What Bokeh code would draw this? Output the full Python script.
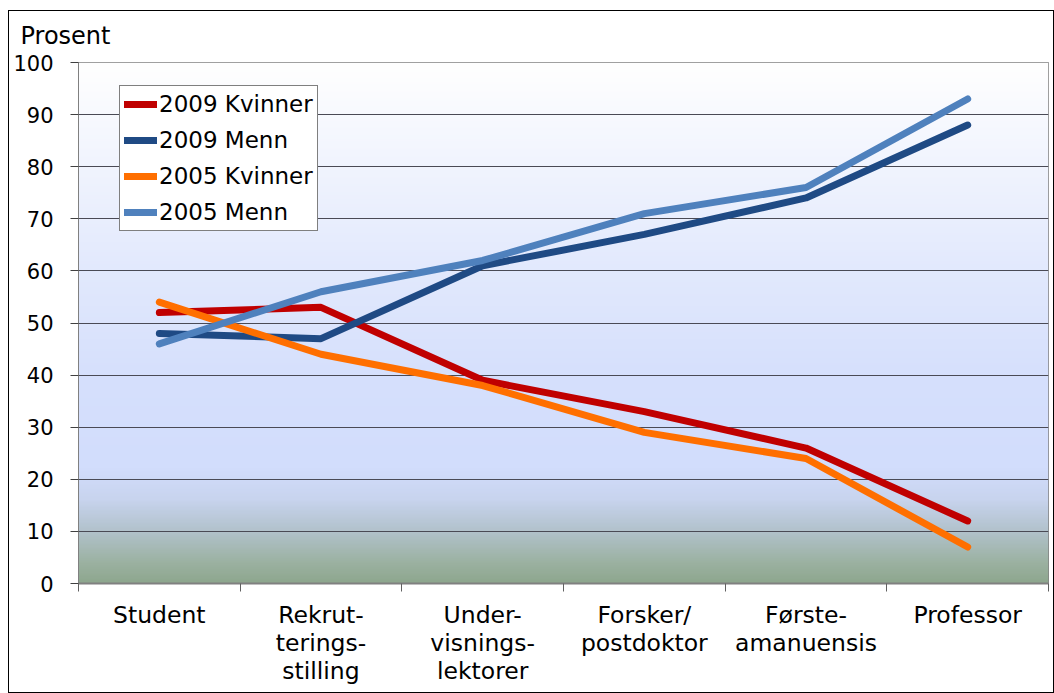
import numpy as np
from bokeh.plotting import figure
from bokeh.models import FixedTicker, Legend, LegendItem, Range1d
from bokeh.embed import file_html
from bokeh.resources import INLINE

categories = ["Student", "Rekrut-\nterings-\nstilling", "Under-\nvisnings-\nlektorer",
              "Forsker/\npostdoktor", "Første-\namanuensis", "Professor"]
kvinner_2009 = [52, 53, 39, 33, 26, 12]
menn_2009 = [48, 47, 61, 67, 74, 88]
kvinner_2005 = [54, 44, 38, 29, 24, 7]
menn_2005 = [46, 56, 62, 71, 76, 93]
y_ticks = [0, 10, 20, 30, 40, 50, 60, 70, 80, 90, 100]

series = [
    ("2009 Kvinner", kvinner_2009, "#c00000"),
    ("2009 Menn", menn_2009, "#1f4a84"),
    ("2005 Kvinner", kvinner_2005, "#ff6f00"),
    ("2005 Menn", menn_2005, "#4f81bd"),
]

FONT = "DejaVu Sans"

p = figure(width=1046, height=683, output_backend="svg", toolbar_location=None,
           x_range=Range1d(-0.5, 5.5), y_range=Range1d(0, 100),
           min_border_left=69, min_border_right=7, min_border_top=51, min_border_bottom=111)
p.background_fill_color = None
p.border_fill_color = "white"
p.outline_line_color = "#808080"
p.outline_line_width = 1
p.styles = {"border": "1px solid black", "margin-left": "8px", "margin-top": "10px"}

# gradient background
stops_v = np.array([0, 4, 10, 16, 22, 40, 60, 100], dtype=float)
stops_c = np.array([
    [0x8e, 0xa7, 0x8e],
    [0x9c, 0xb2, 0xa2],
    [0xb2, 0xc2, 0xcc],
    [0xc8, 0xd4, 0xee],
    [0xd2, 0xdd, 0xfc],
    [0xd6, 0xe0, 0xfc],
    [0xe2, 0xe9, 0xfd],
    [0xff, 0xff, 0xff],
], dtype=float)
ny = 400
vals = np.linspace(0, 100, ny)
img = np.zeros((ny, 2), dtype=np.uint32)
view = img.view(dtype=np.uint8).reshape((ny, 2, 4))
for ch in range(3):
    col = np.interp(vals, stops_v, stops_c[:, ch])
    view[:, :, ch] = col[:, None].astype(np.uint8)
view[:, :, 3] = 255
p.image_rgba(image=[img], x=-0.5, y=0, dw=6, dh=100, level="image")

# grid
p.xgrid.grid_line_color = None
p.ygrid.ticker = FixedTicker(ticks=y_ticks)
p.ygrid.grid_line_color = "#4a4a55"
p.ygrid.grid_line_width = 1
p.ygrid.level = "underlay"

xs = list(range(len(categories)))
items = []
for name, vals_s, color in series:
    r = p.line(xs, vals_s, line_color=color, line_width=7, line_cap="round", line_join="round")
    items.append(LegendItem(label=name, renderers=[r]))

# axes
p.yaxis.ticker = FixedTicker(ticks=y_ticks)
p.yaxis.major_label_text_font = FONT
p.yaxis.major_label_text_font_size = "21px"
p.yaxis.major_label_text_color = "black"
p.yaxis.axis_line_color = "#808080"
p.yaxis.major_tick_line_color = "#404040"
p.yaxis.major_tick_out = 8
p.yaxis.major_tick_in = 0
p.yaxis.minor_tick_line_color = None
p.yaxis.major_label_standoff = 17

p.xaxis.ticker = FixedTicker(ticks=xs, minor_ticks=[i - 0.5 for i in range(len(categories) + 1)])
p.xaxis.major_label_overrides = {i: c for i, c in enumerate(categories)}
p.xaxis.major_label_text_font = FONT
p.xaxis.major_label_text_font_size = "23.5px"
p.xaxis.major_label_text_color = "black"
p.xaxis.major_label_text_line_height = 1.0
p.xaxis.axis_line_color = "#808080"
p.xaxis.axis_line_width = 2
p.xaxis.major_tick_line_color = None
p.xaxis.major_tick_out = 6
p.xaxis.minor_tick_line_color = "#606060"
p.xaxis.minor_tick_out = 8
p.xaxis.minor_tick_in = 0
p.xaxis.major_label_standoff = 9

p.title.text = "Prosent"
p.title.text_font = FONT
p.title.text_font_size = "24px"
p.title.text_font_style = "normal"
p.title.text_color = "black"
p.title.align = "left"
p.title.vertical_align = "top"
p.title.offset = -58
p.title.standoff = 21

legend = Legend(items=items, location=(41, 352))
legend.label_text_font = FONT
legend.label_text_font_size = "23px"
legend.label_text_color = "black"
legend.glyph_width = 33
legend.glyph_height = 20
legend.label_standoff = 2
legend.label_height = 28
legend.spacing = 8
legend.padding = 4
legend.margin = 0
legend.border_line_color = "black"
legend.border_line_width = 1
legend.background_fill_color = "white"
legend.background_fill_alpha = 1
p.add_layout(legend, "center")

open("out.html", "w").write(file_html(p, INLINE))
